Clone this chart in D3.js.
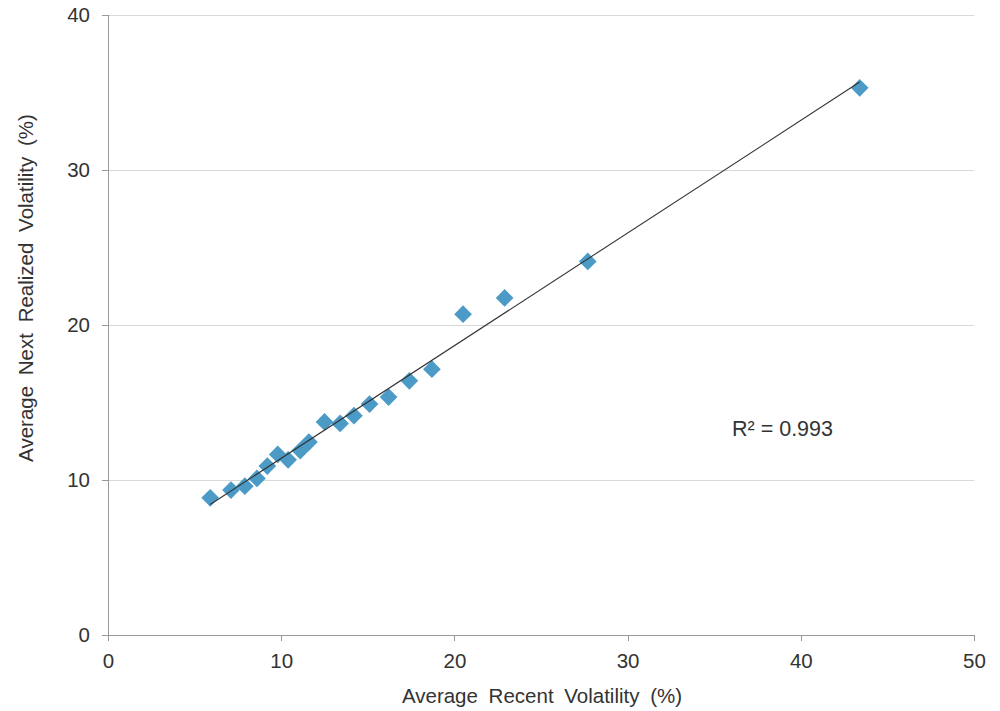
<!DOCTYPE html>
<html><head><meta charset="utf-8">
<script src="https://cdn.jsdelivr.net/npm/d3@7"></script>
<style>
body{margin:0;background:#fff;}
text{font-family:"Liberation Sans",Arial,sans-serif;fill:#333;}
</style></head>
<body><svg id="c" width="1000" height="711"></svg>
<script>
const recentVol = [5.9,7.1,7.9,8.6,9.2,9.8,10.4,11.1,11.6,12.5,13.4,14.2,15.1,16.2,17.4,18.7,20.5,22.9,27.7,43.4];
const nextVol   = [8.85,9.35,9.6,10.1,10.9,11.65,11.3,11.9,12.45,13.75,13.65,14.15,14.9,15.35,16.4,17.15,20.7,21.75,24.1,35.3];
const xTicks = [0,10,20,30,40,50];
const yTicks = [0,10,20,30,40];
const xTitle = "Average Recent Volatility (%)";
const yTitle = "Average Next Realized Volatility (%)";
const rLabel = "R² = 0.993";

const svg = d3.select("#c");
const x = d3.scaleLinear().domain([0,50]).range([108,974]);
const y = d3.scaleLinear().domain([0,40]).range([635,15]);

// gridlines
svg.append("g").selectAll("line").data(yTicks.filter(d=>d>0)).join("line")
  .attr("x1",x(0)).attr("x2",x(50)).attr("y1",d=>y(d)).attr("y2",d=>y(d))
  .attr("stroke","#d9d9d9").attr("stroke-width",1).attr("shape-rendering","crispEdges");

const xAxis = svg.append("g").attr("transform",`translate(0,${y(0)})`)
  .call(d3.axisBottom(x).tickValues(xTicks).tickSize(6).tickPadding(12).tickFormat(d3.format("d")));
const yAxis = svg.append("g").attr("transform",`translate(${x(0)},0)`)
  .call(d3.axisLeft(y).tickValues(yTicks).tickSize(6).tickPadding(12).tickFormat(d3.format("d")));
[xAxis,yAxis].forEach(a=>{
  a.selectAll("path,line").attr("stroke","#999").attr("shape-rendering","crispEdges");
  a.selectAll("text").attr("font-size",20.5).attr("font-family","Liberation Sans, Arial, sans-serif").attr("fill","#333");
});
yAxis.select(".domain").attr("d",`M-6,${y(40)}H0V${y(0)}`);
xAxis.select(".domain").attr("d",`M${x(0)},0H${x(50)}`);

// regression
const n = recentVol.length;
const mx = d3.mean(recentVol), my = d3.mean(nextVol);
let sxy=0,sxx=0;
for(let i=0;i<n;i++){sxy+=(recentVol[i]-mx)*(nextVol[i]-my);sxx+=(recentVol[i]-mx)**2;}
const b = sxy/sxx, a0 = my-b*mx;
const [x0,x1] = d3.extent(recentVol);

// points
const sym = d3.symbol().type(d3.symbolDiamond2).size(200);
svg.append("g").selectAll("path").data(recentVol.map((v,i)=>[v,nextVol[i]])).join("path")
  .attr("d",sym).attr("transform",d=>`translate(${x(d[0])},${y(d[1])})`)
  .attr("fill","#4b9bc6");

svg.append("line").attr("x1",x(x0)).attr("y1",y(a0+b*x0)).attr("x2",x(x1)).attr("y2",y(a0+b*x1))
  .attr("stroke","#333").attr("stroke-width",1.1);

svg.append("text").attr("x",732).attr("y",436).attr("font-size",21.5).text(rLabel);
svg.append("text").attr("x",542).attr("y",703).attr("text-anchor","middle").attr("font-size",20.5)
  .attr("word-spacing",5).text(xTitle);
svg.append("text").attr("transform","translate(33,288) rotate(-90)").attr("text-anchor","middle").attr("font-size",20.5)
  .attr("word-spacing",5).text(yTitle);
</script></body></html>
